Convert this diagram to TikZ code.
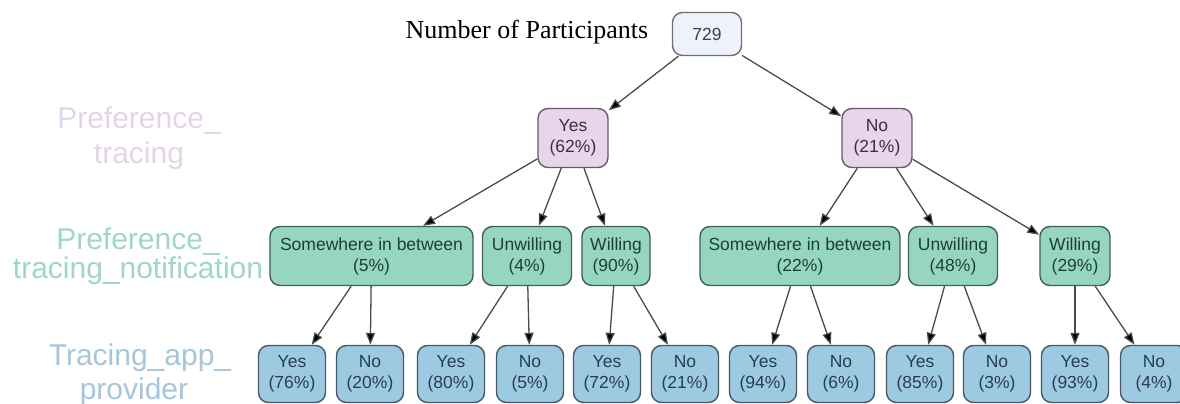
\documentclass[tikz,border=0pt]{standalone}
\usepackage{fontspec}
\setmainfont{Liberation Serif}
\setsansfont{Liberation Sans}
\usetikzlibrary{arrows.meta}
\definecolor{rootfill}{RGB}{238,242,251}
\definecolor{rootdraw}{RGB}{110,110,115}
\definecolor{pinkfill}{RGB}{231,213,233}
\definecolor{pinkdraw}{RGB}{105,90,108}
\definecolor{pinktext}{RGB}{60,45,65}
\definecolor{greenfill}{RGB}{150,214,192}
\definecolor{greendraw}{RGB}{65,95,88}
\definecolor{greentext}{RGB}{30,62,55}
\definecolor{bluefill}{RGB}{158,202,225}
\definecolor{bluedraw}{RGB}{68,88,105}
\definecolor{bluetext}{RGB}{40,60,82}
\definecolor{pinklabel}{RGB}{228,212,231}
\definecolor{greenlabel}{RGB}{160,215,196}
\definecolor{bluelabel}{RGB}{165,198,220}
\definecolor{edgecol}{RGB}{75,75,75}
\newcommand\boxfont{\sffamily\fontsize{17.5}{21}\selectfont}
\newcommand\lblfont{\sffamily\fontsize{30}{32}\selectfont}
\tikzset{
  basebox/.style={rounded corners=10pt, line width=1.4pt, align=center, inner sep=0pt, font=\boxfont},
  rootbox/.style={basebox, draw=rootdraw, fill=rootfill, text=black!75, minimum width=69pt, minimum height=43pt},
  pinkbox/.style={basebox, draw=pinkdraw, fill=pinkfill, text=pinktext, minimum width=70pt, minimum height=59pt},
  greenbox/.style={basebox, draw=greendraw, fill=greenfill, text=greentext, minimum height=59pt},
  bluebox/.style={basebox, draw=bluedraw, fill=bluefill, text=bluetext, minimum width=67pt, minimum height=57pt},
  edge/.style={draw=edgecol, line width=1.3pt, -{Triangle[length=12pt,width=9pt,fill=black]}},
  lbl/.style={font=\lblfont, anchor=base, inner sep=0pt}
}
\begin{document}
\begin{tikzpicture}[x=1pt,y=-1pt]
\useasboundingbox (0,0) rectangle (1180,404);
\clip (0,0) rectangle (1180,404);
% title
\node[font=\rmfamily\fontsize{26}{28}\selectfont, anchor=base, inner sep=0pt] (title) at (527,38) {Number of Participants};
% left labels
\node[lbl, text=pinklabel] (pA) at (139,128) {Preference\_};
\node[lbl, text=pinklabel] (pB) at (139,163) {tracing};
\node[lbl, text=greenlabel] (gA) at (138,249) {Preference\_};
\node[lbl, text=greenlabel] (gB) at (138,278) {tracing\_notification};
\node[lbl, text=bluelabel] (bA) at (140,365) {Tracing\_app\_};
\node[lbl, text=bluelabel] (bB) at (134,399) {provider};
% nodes
\node[rootbox] (root) at (707,34) {729};
\node[pinkbox] (py) at (573,138) {Yes\\(62\%)};
\node[pinkbox] (pn) at (877,138) {No\\(21\%)};
\node[greenbox, minimum width=203pt] (ys) at (371.5,256) {Somewhere in between\\(5\%)};
\node[greenbox, minimum width=89pt] (yu) at (527,256) {Unwilling\\(4\%)};
\node[greenbox, minimum width=68pt] (yw) at (616,256) {Willing\\(90\%)};
\node[greenbox, minimum width=200pt] (ns) at (800,256) {Somewhere in between\\(22\%)};
\node[greenbox, minimum width=89pt] (nu) at (953,256) {Unwilling\\(48\%)};
\node[greenbox, minimum width=70pt] (nw) at (1075,256) {Willing\\(29\%)};
\node[bluebox] (b1) at (292,374) {Yes\\(76\%)};
\node[bluebox] (b2) at (370,374) {No\\(20\%)};
\node[bluebox] (b3) at (451,374) {Yes\\(80\%)};
\node[bluebox] (b4) at (530,374) {No\\(5\%)};
\node[bluebox] (b5) at (607,374) {Yes\\(72\%)};
\node[bluebox] (b6) at (685,374) {No\\(21\%)};
\node[bluebox] (b7) at (763,374) {Yes\\(94\%)};
\node[bluebox] (b8) at (841,374) {No\\(6\%)};
\node[bluebox] (b9) at (920,374) {Yes\\(85\%)};
\node[bluebox] (b10) at (997,374) {No\\(3\%)};
\node[bluebox] (b11) at (1075,374) {Yes\\(93\%)};
\node[bluebox] (b12) at (1154,374) {No\\(4\%)};
% edges
\draw[edge] (root) -- (py);
\draw[edge] (root) -- (pn);
\draw[edge] (py) -- (ys);
\draw[edge] (py) -- (yu);
\draw[edge] (py) -- (yw);
\draw[edge] (pn) -- (ns);
\draw[edge] (pn) -- (nu);
\draw[edge] (pn) -- (nw);
\draw[edge] (ys) -- (b1);
\draw[edge] (ys) -- (b2);
\draw[edge] (yu) -- (b3);
\draw[edge] (yu) -- (b4);
\draw[edge] (yw) -- (b5);
\draw[edge] (yw) -- (b6);
\draw[edge] (ns) -- (b7);
\draw[edge] (ns) -- (b8);
\draw[edge] (nu) -- (b9);
\draw[edge] (nu) -- (b10);
\draw[edge] (nw) -- (b11);
\draw[edge] (nw) -- (b12);
\end{tikzpicture}
\end{document}
